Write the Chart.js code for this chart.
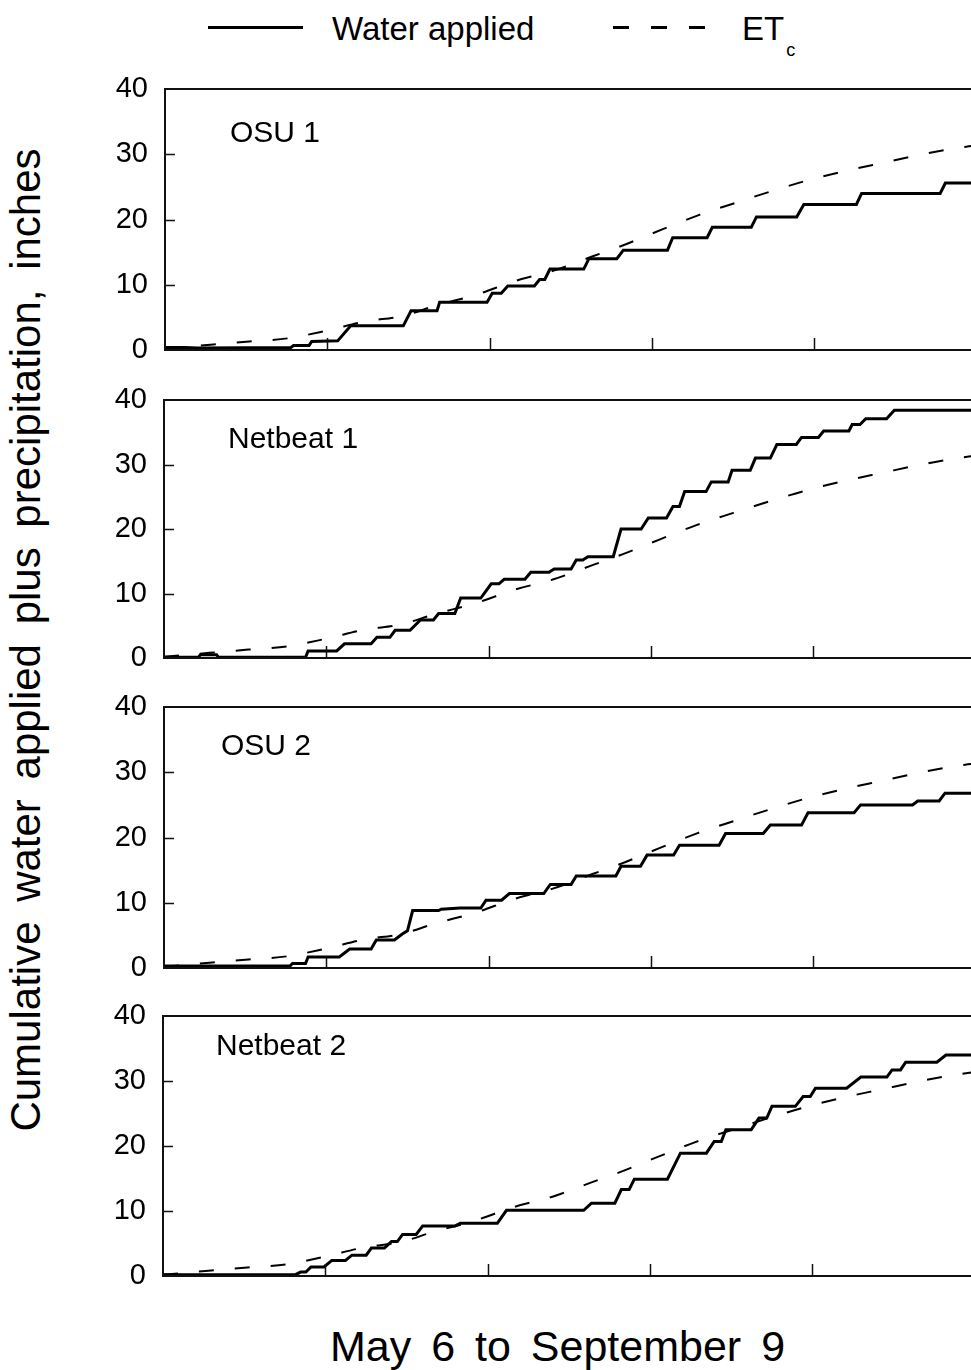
<!DOCTYPE html>
<html>
<head>
<meta charset="utf-8">
<script src="https://cdn.jsdelivr.net/npm/chart.js@4.4.1/dist/chart.umd.min.js"></script>
<style>
  html, body { margin: 0; padding: 0; background: #fff; }
  body { width: 971px; height: 1370px; position: relative; overflow: hidden; font-family: "Liberation Sans", Arial, sans-serif; color: #000; }
  canvas { position: absolute; }
  .txt { position: absolute; white-space: nowrap; line-height: 1; }
  .panel-label { font-size: 30px; }
</style>
</head>
<body>

<!-- legend -->
<div style="position:absolute; left:208px; top:26px; width:95px; height:3px; background:#000;"></div>
<div class="txt" style="left:332px; top:12px; font-size:33px;">Water applied</div>
<div style="position:absolute; left:613px; top:26px; width:95px; height:3px; background:repeating-linear-gradient(to right, #000 0 16px, transparent 16px 38px);"></div>
<div class="txt" style="left:742px; top:12px; font-size:33px;">ET<span style="font-size:18px; position:relative; top:16px; left:2px;">c</span></div>

<!-- axis titles -->
<div class="txt" style="left:26px; top:640px; font-size:42px; word-spacing:8px; transform:translate(-50%,-50%) rotate(-90deg);">Cumulative water applied plus precipitation, inches</div>
<div class="txt" style="left:330px; top:1325px; font-size:43px; word-spacing:8px;">May 6 to September 9</div>

<div id="panels"></div>

<script>
// days after May 6 (May 6 = 0, September 9 = 126)
const xMax = 126;
const xStep = 25;
const yTicks = [0, 10, 20, 30, 40];

const panelNames = ['OSU 1', 'Netbeat 1', 'OSU 2', 'Netbeat 2'];

// crop evapotranspiration (same curve in every panel)
const etcDays   = [0, 7, 13, 19, 25, 31, 36.5, 41.7, 48, 54, 60, 66, 70.7, 76.4, 82, 87.7, 93.3, 99, 104.6, 110.6, 116.7, 122.3, 126];
const etcValues = [0.2, 0.8, 1.3, 1.8, 3.0, 4.4, 5.2, 6.8, 8.5, 10.6, 12.2, 14.4, 16.1, 18.4, 20.6, 22.5, 24.3, 26.0, 27.4, 28.7, 30.0, 31.0, 31.5];

// water applied plus precipitation
const osu1Days  = [0, 3, 5, 19.4, 19.8, 22.2, 22.6, 26.6, 28.6, 36.7, 37.9, 41.9, 42.3, 49.6, 50.4, 51.8, 52.8, 56.9, 57.7, 58.5,
                   59.3, 64.5, 65.3, 69.6, 70.6, 77.4, 78.2, 83.5, 84.3, 90.3, 91.1, 97.3, 98.4, 106.5, 107.3, 119.4, 120.2, 126];
const osu1Water = [0.4, 0.4, 0.3, 0.4, 0.7, 0.7, 1.3, 1.4, 3.7, 3.7, 6.0, 6.0, 7.3, 7.3, 8.7, 8.7, 9.8, 9.8, 10.8, 10.8,
                   12.4, 12.4, 14.0, 14.0, 15.3, 15.3, 17.2, 17.2, 18.8, 18.8, 20.4, 20.4, 22.3, 22.3, 24.0, 24.0, 25.6, 25.6];

const net1Days  = [0, 5.3, 5.6, 8.1, 8.4, 21.8, 22.2, 26.6, 27.8, 31.9, 32.8, 34.8, 35.6, 37.9, 39.5, 41.5, 42.3, 44.8, 45.7, 48.8,
                   50.4, 51.6, 52.4, 55.6, 56.5, 59.3, 60.1, 62.7, 63.5, 64.5, 65.3, 69.2, 70.4, 73.5, 74.6, 77.4, 78.4, 79.4, 80.2, 83.5,
                   84.3, 86.9, 87.5, 90.3, 91.1, 93.4, 94.4, 97.4, 98.2, 100.8, 101.6, 105.5, 106, 107.2, 108.1, 111.3, 112.5, 126];
const net1Water = [0.1, 0.1, 0.5, 0.5, 0.1, 0.1, 1.1, 1.1, 2.2, 2.2, 3.2, 3.2, 4.3, 4.3, 5.9, 5.9, 6.9, 6.9, 9.3, 9.3,
                   11.5, 11.5, 12.2, 12.2, 13.3, 13.3, 13.8, 13.8, 15.2, 15.2, 15.7, 15.7, 20.0, 20.0, 21.7, 21.7, 23.5, 23.5, 25.8, 25.8,
                   27.3, 27.3, 29.1, 29.1, 31.0, 31.0, 33.1, 33.1, 34.2, 34.2, 35.2, 35.2, 36.2, 36.2, 37.1, 37.1, 38.4, 38.4];

const osu2Days  = [0, 19.4, 19.8, 21.8, 22.2, 27, 28.6, 31.9, 32.7, 35.5, 36.7, 37.5, 38.3, 42.3, 42.7, 45.6, 48.8, 49.6, 52, 53.2,
                   58.5, 59.5, 62.7, 63.5, 69.6, 70.4, 73.4, 74.4, 78.5, 79.4, 85.5, 86.5, 92.3, 93.4, 98.2, 99.2, 106.3, 107.3, 115.3, 116.1,
                   119.4, 120.3, 126];
const osu2Water = [0.3, 0.3, 0.7, 0.7, 1.7, 1.7, 2.9, 2.9, 4.3, 4.3, 5.2, 5.7, 8.8, 8.8, 9.0, 9.2, 9.2, 10.4, 10.4, 11.4,
                   11.4, 12.8, 12.8, 14.1, 14.1, 15.6, 15.6, 17.3, 17.3, 18.8, 18.8, 20.6, 20.6, 21.9, 21.9, 23.8, 23.8, 25.0, 25.0, 25.6,
                   25.6, 26.8, 26.8];

const net2Days  = [0, 20.4, 21.2, 22, 22.8, 24.8, 26, 28.1, 29.1, 31.3, 32.1, 34.1, 35.2, 36.1, 36.9, 39, 40, 45, 45.8, 51.5,
                   52.9, 64.8, 66, 69.6, 70.6, 71.8, 72.6, 77.7, 79.7, 83.7, 84.9, 86, 86.7, 90.6, 91.8, 93, 93.8, 97.4, 98.6, 99.7,
                   100.5, 105.3, 107.5, 111.5, 112.3, 113.6, 114.4, 119.2, 120.6, 126];
const net2Water = [0.2, 0.2, 0.6, 0.6, 1.4, 1.4, 2.4, 2.4, 3.2, 3.2, 4.3, 4.3, 5.3, 5.3, 6.4, 6.4, 7.7, 7.7, 8.1, 8.1,
                   10.1, 10.1, 11.2, 11.2, 13.3, 13.3, 14.9, 14.9, 18.9, 18.9, 20.7, 20.7, 22.5, 22.5, 24.3, 24.3, 26.1, 26.1, 27.6, 27.6,
                   28.9, 28.9, 30.6, 30.6, 31.7, 31.7, 32.9, 32.9, 34.0, 34.0];

const waterDays   = [osu1Days, net1Days, osu2Days, net2Days];
const waterValues = [osu1Water, net1Water, osu2Water, net2Water];

// page layout of each panel frame
const panelTop    = [89, 400, 707, 1016];
const panelHeight = [261, 258, 261, 260];
const panelLeft   = [165, 164, 164, 163];
const labelPos    = [[230, 117], [228, 423], [221, 730], [216, 1030]];

Chart.defaults.font.family = '"Liberation Sans", Arial, sans-serif';
Chart.defaults.font.size = 29;
Chart.defaults.color = '#000';

function toPoints(xs, ys) {
    return xs.map((x, i) => ({ x: x, y: ys[i] }));
}

// frame around the plot plus tick marks pointing inward
const framePlugin = {
    id: 'frame',
    afterDraw(chart) {
        const { ctx, chartArea: a, scales } = chart;
        ctx.save();
        ctx.strokeStyle = '#111';
        ctx.lineWidth = 2;
        ctx.strokeRect(a.left, a.top, a.right - a.left, a.bottom - a.top);
        ctx.lineWidth = 1.5;
        ctx.beginPath();
        scales.y.ticks.forEach(t => {
            if (t.value <= 0 || t.value >= 40) return;
            const y = Math.round(scales.y.getPixelForValue(t.value)) + 0.5;
            ctx.moveTo(a.left, y);
            ctx.lineTo(a.left + 10, y);
        });
        scales.x.ticks.forEach(t => {
            if (t.value <= 0 || t.value % xStep !== 0) return;
            const x = Math.round(scales.x.getPixelForValue(t.value)) + 0.5;
            ctx.moveTo(x, a.bottom);
            ctx.lineTo(x, a.bottom - 12);
        });
        ctx.stroke();
        ctx.restore();
    }
};

const host = document.getElementById('panels');
// the y labels need ~35px above and below the plot, so keep padding larger than that
const canvasW = 1000, pad = 40;

panelNames.forEach((name, i) => {
    const cv = document.createElement('canvas');
    cv.width = canvasW;
    cv.height = panelHeight[i] + 2 * pad;
    cv.style.left = (panelLeft[i] - 165) + 'px';
    cv.style.top = (panelTop[i] - pad) + 'px';
    host.appendChild(cv);

    const lab = document.createElement('div');
    lab.className = 'txt panel-label';
    lab.textContent = name;
    lab.style.left = labelPos[i][0] + 'px';
    lab.style.top = labelPos[i][1] + 'px';
    document.body.appendChild(lab);

    new Chart(cv.getContext('2d'), {
        type: 'line',
        data: {
            datasets: [
                {
                    label: 'Water applied',
                    data: toPoints(waterDays[i], waterValues[i]),
                    borderColor: '#000',
                    borderWidth: 3,
                    pointRadius: 0,
                    tension: 0,
                    fill: false
                },
                {
                    label: 'ETc',
                    data: toPoints(etcDays, etcValues),
                    borderColor: '#000',
                    borderWidth: 2,
                    borderDash: [15, 21],
                    pointRadius: 0,
                    cubicInterpolationMode: 'monotone',
                    fill: false
                }
            ]
        },
        options: {
            responsive: false,
            animation: false,
            devicePixelRatio: 1,
            layout: {
                autoPadding: false,
                padding: { top: pad, left: 0, right: canvasW - 165 - 818, bottom: pad }
            },
            plugins: { legend: { display: false }, tooltip: { enabled: false } },
            scales: {
                x: {
                    type: 'linear',
                    min: 0,
                    max: xMax,
                    ticks: { display: false, stepSize: xStep },
                    grid: { display: false, drawTicks: false },
                    border: { display: false },
                    afterFit: s => { s.height = 0; }
                },
                y: {
                    min: yTicks[0],
                    max: yTicks[yTicks.length - 1],
                    ticks: { stepSize: 10, padding: 17 },
                    grid: { display: false, drawTicks: false },
                    border: { display: false },
                    afterFit: s => { s.width = 165; }
                }
            }
        },
        plugins: [framePlugin]
    });
});
</script>
</body>
</html>
